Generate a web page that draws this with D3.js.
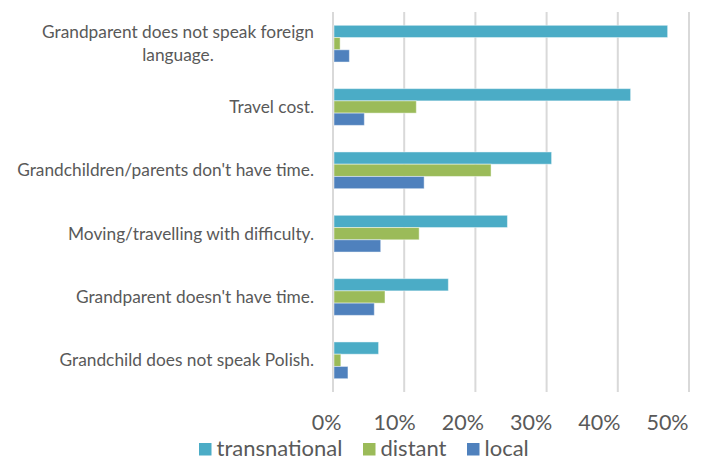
<!DOCTYPE html>
<html><head><meta charset="utf-8">
<script src="https://cdn.jsdelivr.net/npm/d3@7"></script>
<style>body{margin:0;background:#fff}svg{display:block}text{font-family:Lato,"Open Sans",sans-serif;fill:#595959}</style>
</head><body><svg id="c" width="726" height="459"></svg>
<script>
const categories = [
  "Grandparent does not speak foreign|language.",
  "Travel cost.",
  "Grandchildren/parents don't have time.",
  "Moving/travelling with difficulty.",
  "Grandparent doesn't have time.",
  "Grandchild does not speak Polish."
];
const seriesNames = ["transnational", "distant", "local"];
const transnational = [0.470, 0.418, 0.307, 0.245, 0.162, 0.064];
const distant = [0.010, 0.117, 0.222, 0.121, 0.073, 0.011];
const local = [0.023, 0.044, 0.128, 0.067, 0.058, 0.021];
const tickValues = [0, 0.1, 0.2, 0.3, 0.4, 0.5];
const colors = ["#4BACC6", "#9BBB59", "#4F81BD"];

const seriesData = [transnational, distant, local];
const svg = d3.select("#c");
const x = d3.scaleLinear().domain([0, 0.5]).range([333, 689]);
const y = d3.scaleBand().domain(categories).range([12, 392]).padding(0);
const bw = y.bandwidth();
const ySub = d3.scaleBand().domain(seriesNames).range([bw * 0.21, bw * 0.79]).padding(0);

// gridlines
svg.append("g").selectAll("line").data(tickValues).join("line")
  .attr("x1", d => x(d)).attr("x2", d => x(d))
  .attr("y1", 12).attr("y2", 392)
  .attr("stroke", "#d9d9d9").attr("stroke-width", 2);

// bars
const groups = svg.append("g").selectAll("g").data(categories).join("g")
  .attr("transform", c => `translate(0,${y(c)})`);
groups.selectAll("rect").data((c, i) => seriesNames.map((s, j) => ({s, v: seriesData[j][i], j})))
  .join("rect")
  .attr("x", x(0) + 1)
  .attr("y", d => ySub(d.s))
  .attr("width", d => x(d.v) - x(0) - 1)
  .attr("height", ySub.bandwidth())
  .attr("fill", d => colors[d.j])
  .attr("stroke", "rgba(255,255,255,0.45)").attr("stroke-width", 1);

// category labels
const lab = svg.append("g").selectAll("text").data(categories).join("text")
  .attr("text-anchor", "end")
  .attr("font-size", 17.3);
lab.each(function(c) {
  const lines = c.split("|");
  const t = d3.select(this);
  const cy = y(c) + bw / 2;
  const lh = 23.3;
  lines.forEach((ln, k) => {
    t.append("tspan")
      .attr("x", 314)
      .attr("y", cy + (k - (lines.length - 1) / 2) * lh + 6)
      .text(ln);
  });
});
// center second line of wrapped label under first
lab.filter(c => c.includes("|")).each(function() {
  const ts = d3.select(this).selectAll("tspan").nodes();
  const w0 = ts[0].getComputedTextLength();
  d3.select(ts[1]).attr("text-anchor", "middle").attr("x", 314 - w0 / 2);
});

// x-axis labels
const xl = d3.scaleLinear().domain([0, 0.5]).range([326, 667]);
const ax = svg.append("g").attr("transform", "translate(0,414.5)")
  .call(d3.axisBottom(xl).tickValues(tickValues).tickFormat(d3.format(".0%")).tickSize(0).tickPadding(0));
ax.select(".domain").remove();
ax.selectAll("text").attr("font-size", 21.5).attr("fill", "#595959").attr("font-family", "Lato,sans-serif").attr("dy", "0.71em");

// legend
const legX = [199, 363, 467];
const leg = svg.append("g").selectAll("g").data(seriesNames).join("g")
  .attr("transform", (d, i) => `translate(${legX[i]},443)`);
leg.append("rect").attr("width", 12.5).attr("height", 12.5).attr("fill", (d, i) => colors[i]);
leg.append("text").attr("x", 17.5).attr("y", 12.5).attr("font-size", 22).text(d => d);
</script></body></html>
